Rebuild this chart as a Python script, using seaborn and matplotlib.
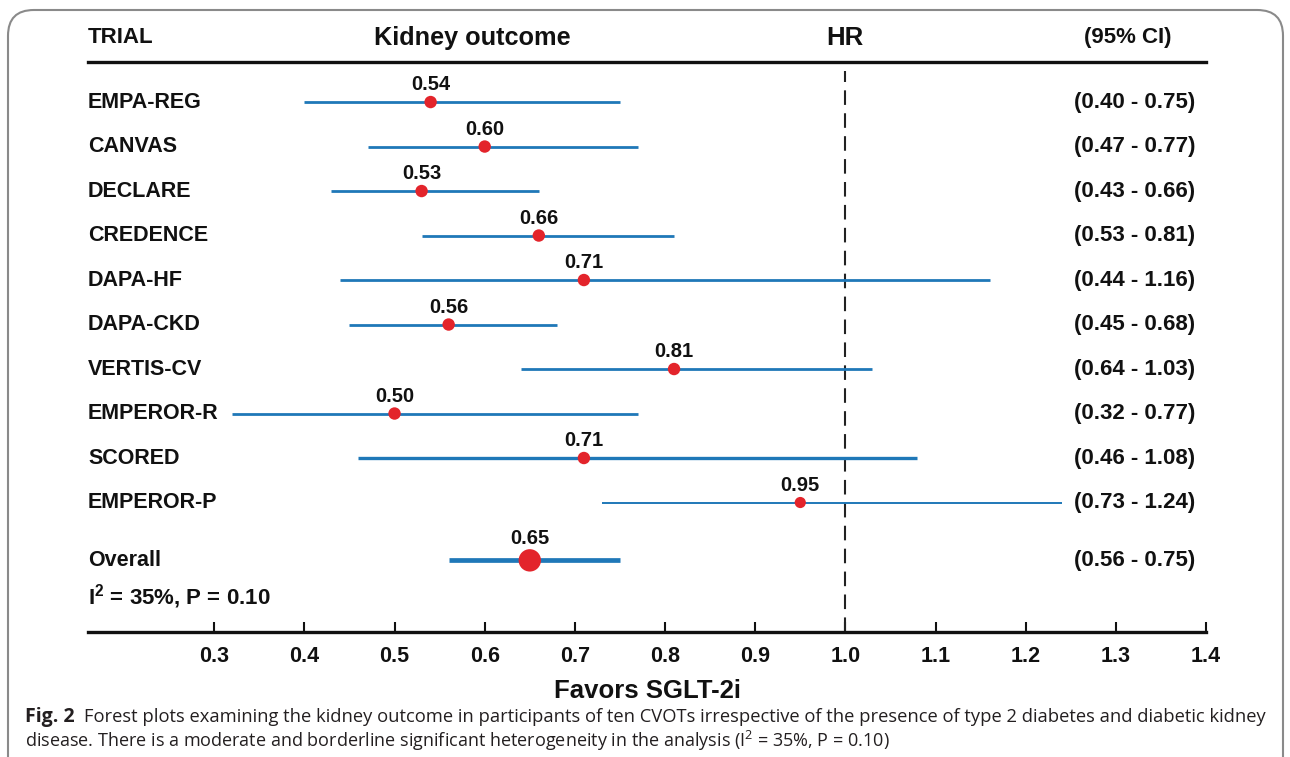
import matplotlib
matplotlib.use("Agg")
import matplotlib.pyplot as plt
import seaborn as sns
import pandas as pd
from matplotlib.patches import FancyBboxPatch

# data
trials = ["EMPA-REG", "CANVAS", "DECLARE", "CREDENCE", "DAPA-HF",
          "DAPA-CKD", "VERTIS-CV", "EMPEROR-R", "SCORED", "EMPEROR-P", "Overall"]
hr = [0.54, 0.60, 0.53, 0.66, 0.71, 0.56, 0.81, 0.50, 0.71, 0.95, 0.65]
ci_low = [0.40, 0.47, 0.43, 0.53, 0.44, 0.45, 0.64, 0.32, 0.46, 0.73, 0.56]
ci_high = [0.75, 0.77, 0.66, 0.81, 1.16, 0.68, 1.03, 0.77, 1.08, 1.24, 0.75]
xticks = [0.3, 0.4, 0.5, 0.6, 0.7, 0.8, 0.9, 1.0, 1.1, 1.2, 1.3, 1.4]

# row positions (overall row sits a bit lower)
rows = list(range(10)) + [10.3]
line_w = [2.0] * 8 + [2.4, 1.4, 3.4]
dot_s = [80] * 9 + [65, 260]
label_off = [0.17] * 10 + [0.28]

BLUE = "#1f78b8"
RED = "#e3242b"
INK = "#111111"

sns.set_theme(style="white")
plt.rcParams['font.family'] = ['Liberation Sans', 'DejaVu Sans']
plt.rcParams['mathtext.fontset'] = 'custom'
plt.rcParams['mathtext.rm'] = 'Open Sans'
plt.rcParams['mathtext.bf'] = 'Liberation Sans:bold'

df = pd.DataFrame({"trial": trials, "hr": hr, "lo": ci_low, "hi": ci_high,
                   "row": rows, "lw": line_w, "size": dot_s, "off": label_off})

W, H = 1290, 757
fig = plt.figure(figsize=(W / 100, H / 100), dpi=100)
ax = fig.add_axes([88 / W, 1 - 632 / H, 1118 / W, 570 / H])

# confidence intervals
for _, r in df.iterrows():
    ax.hlines(r["row"], r["lo"], r["hi"], color=BLUE, lw=r["lw"], zorder=2)

sns.scatterplot(data=df, x="hr", y="row", size="size", sizes=(65, 260),
                color=RED, edgecolor="none", legend=False, ax=ax, zorder=3)

# HR value above each point
for _, r in df.iterrows():
    ax.text(r["hr"], r["row"] - r["off"], "{:.2f}".format(r["hr"]), ha="center", va="bottom",
            fontsize=14.5, fontweight="bold", color=INK)

# trial names and CI text
for _, r in df.iterrows():
    ax.text(0.16, r["row"], r["trial"], ha="left", va="center",
            fontsize=15.5, fontweight="bold", color=INK)
    ax.text(1.388, r["row"], "({:.2f} - {:.2f})".format(r["lo"], r["hi"]), ha="right",
            va="center", fontsize=16, fontweight="bold", color=INK)

ax.text(0.16, 11.12, "I$^{\\mathbf{2}}$ = 35%, P = 0.10", ha="left", va="center",
        fontsize=16, fontweight="bold", color=INK)

# header row
ax.text(0.16, -1.44, "TRIAL", ha="left", va="center", fontsize=16,
        fontweight="bold", color=INK, clip_on=False)
ax.text(0.586, -1.44, "Kidney outcome", ha="center", va="center", fontsize=18.2,
        fontweight="bold", color=INK, clip_on=False)
ax.text(1.0, -1.44, "HR", ha="center", va="center", fontsize=18.5,
        fontweight="bold", color=INK, clip_on=False)
ax.text(1.3135, -1.44, "(95% CI)", ha="center", va="center", fontsize=16,
        fontweight="bold", color=INK, clip_on=False)

# line of no effect
ax.axvline(1.0, color="#222222", lw=1.5, ls=(0, (7, 4)), ymin=0, ymax=0.985, zorder=1)

ax.set_xlim(0.16, 1.4)
ax.set_ylim(11.91, -0.9)
ax.set_yticks([])
ax.set_xticks(xticks)
ax.set_xticklabels(["{:.1f}".format(t) for t in xticks], fontsize=15.5, fontweight="bold",
                   color=INK)
ax.tick_params(axis="x", direction="in", length=7, width=1.5, color=INK, pad=10,
               bottom=True)
ax.set_xlabel("Favors SGLT-2i", fontsize=18.5, fontweight="bold", color=INK, labelpad=9)
ax.set_ylabel("")
for side in ["left", "right"]:
    ax.spines[side].set_visible(False)
for side in ["top", "bottom"]:
    ax.spines[side].set_linewidth(2.4)
    ax.spines[side].set_color(INK)
ax.set_facecolor("none")

# rounded frame of the figure panel
frame = FancyBboxPatch((8 / W, -0.05), 1275 / W, 1.05 - 10 / H,
                       boxstyle="round,pad=0,rounding_size=0.02",
                       transform=fig.transFigure, fill=False, ec="#8a8a8a", lw=1.5,
                       mutation_aspect=W / H)
fig.patches.append(frame)

# caption
cap_font = ['Open Sans', 'DejaVu Sans']
y1, y2 = 1 - 717 / H, 1 - 741 / H
t1 = fig.text(25 / W, y1, "Fig. 2", fontsize=14, fontweight="bold",
              family=cap_font, color="#231f20", va="center")
fig.canvas.draw()
bb = t1.get_window_extent()
fig.text((bb.x1 + 9) / W, y1,
         "Forest plots examining the kidney outcome in participants of ten CVOTs irrespective "
         "of the presence of type 2 diabetes and diabetic kidney",
         fontsize=13.2, family=cap_font, color="#231f20", va="center")
fig.text(25 / W, y2,
         "disease. There is a moderate and borderline significant heterogeneity in the analysis "
         "(I$^2$ = 35%, P = 0.10)",
         fontsize=13, family=cap_font, color="#231f20", va="center")

fig.savefig("out.png", dpi=100)
